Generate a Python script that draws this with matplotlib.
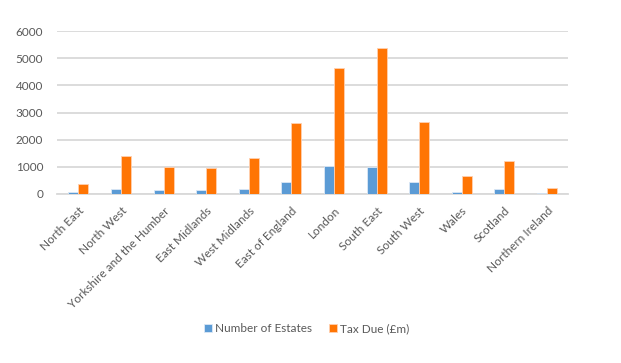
import matplotlib.pyplot as plt
import numpy as np

regions = ["North East", "North West", "Yorkshire and the Humber", "East Midlands",
           "West Midlands", "East of England", "London", "South East", "South West",
           "Wales", "Scotland", "Northern Ireland"]
estates = [50, 185, 148, 135, 172, 431, 1022, 985, 443, 74, 197, 25]
tax_due = [357, 1380, 985, 936, 1318, 2611, 4643, 5369, 2660, 665, 1207, 209]
yticks = [0, 1000, 2000, 3000, 4000, 5000, 6000]

plt.rcParams['font.family'] = ['Lato', 'DejaVu Sans']
text_col = "#595959"

fig = plt.figure(figsize=(6.21, 3.63), dpi=100)
ax = fig.add_axes([0.092, 0.466, 0.823, 0.448])

x = np.arange(len(regions))
w = 0.235
ax.bar(x - w / 2, estates, w, color="#5B9BD5", edgecolor="#DCE8F5", linewidth=0.6,
       label="Number of Estates", zorder=3)
ax.bar(x + w / 2, tax_due, w, color="#FF7504", edgecolor="#FFD0B0", linewidth=0.6,
       label="Tax Due (£m)", zorder=3)

ax.set_xlim(-0.5, len(regions) - 0.5)
ax.set_ylim(0, 6000)
ax.set_yticks(yticks)
ax.yaxis.grid(True, color="#D9D9D9", linewidth=1.3, zorder=0)
ax.set_axisbelow(True)
for s in ["top", "right", "left"]:
    ax.spines[s].set_visible(False)
ax.spines["bottom"].set_color("#D9D9D9")
ax.spines["bottom"].set_linewidth(1.3)

ax.set_xticks(x)
ax.set_xticklabels(regions, rotation=45, ha="right", rotation_mode="anchor",
                   fontsize=8.5, color=text_col)
ax.tick_params(axis="both", length=0)
ax.tick_params(axis="y", pad=10, labelsize=8.5, labelcolor=text_col)
ax.tick_params(axis="x", pad=8)

fig.legend(loc="center", bbox_to_anchor=(0.494, 0.094), ncol=2, frameon=False,
           fontsize=8.5, labelcolor=text_col, handlelength=0.65, handleheight=0.65,
           handletextpad=0.3, columnspacing=1.4)

fig.savefig("out.png", dpi=100)
